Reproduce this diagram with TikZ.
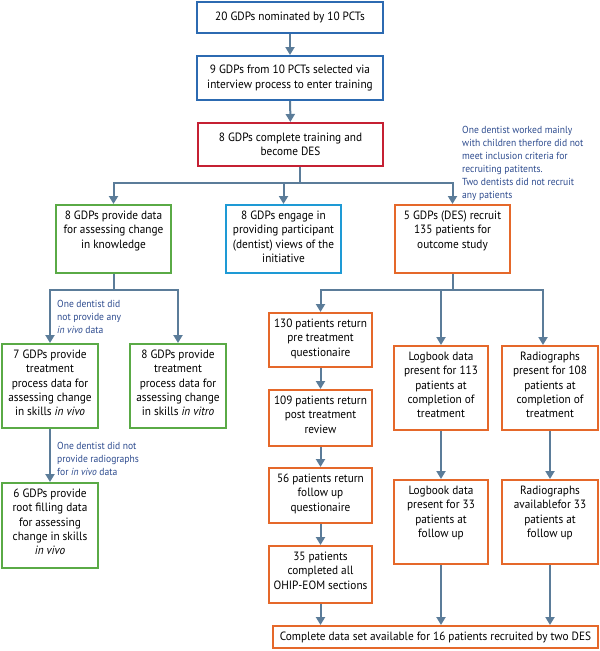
\documentclass[tikz,border=0pt]{standalone}
\usepackage{fontspec}
\setmainfont{PT Sans}[FakeStretch=0.94]
\usetikzlibrary{arrows.meta}
\definecolor{lineclr}{RGB}{91,124,153}
\definecolor{noteclr}{RGB}{45,75,142}
\definecolor{blueclr}{RGB}{44,106,177}
\definecolor{redclr}{RGB}{197,32,51}
\definecolor{greenclr}{RGB}{90,170,70}
\definecolor{cyanclr}{RGB}{30,154,213}
\definecolor{orangeclr}{RGB}{229,104,42}
\begin{document}
\begin{tikzpicture}[x=1pt,y=-1pt,
  boxbase/.style={draw,line width=2pt,inner sep=0pt,font=\fontsize{12}{14.3}\selectfont},
  tbox/.style 2 args={boxbase,
    execute at begin node={\begin{minipage}[c][#2pt][t]{#1pt}\centering\vspace*{6pt}},
    execute at end node={\end{minipage}}},
  cbox/.style 2 args={boxbase,
    execute at begin node={\begin{minipage}[c][#2pt][c]{#1pt}\centering},
    execute at end node={\end{minipage}}},
  note/.style={text=noteclr,font=\fontsize{10.2}{13}\selectfont,align=left,anchor=north west,inner sep=0pt},
  conn/.style={draw=lineclr,line width=2pt},
  arr/.style={conn,-{Triangle[width=9pt,length=8pt]}}]
\useasboundingbox (0,0) rectangle (600,651);

\node[cbox={186}{31},draw=blueclr] (gdp20) at (290,17.5) {20 GDPs nominated by 10 PCTs};
\node[cbox={186}{44},draw=blueclr] (gdp9) at (290,78) {9 GDPs from 10 PCTs selected via\\interview process to enter training};
\node[cbox={185}{43},draw=redclr] (des) at (290.5,144.5) {8 GDPs complete training and\\become DES};

\node[tbox={115}{68},draw=greenclr] (know) at (113.5,239) {8 GDPs provide data\\for assessing change\\in knowledge};
\node[tbox={115}{68},draw=cyanclr] (views) at (283.5,239) {8 GDPs engage in\\providing participant\\(dentist) views of the\\initiative};
\node[tbox={115}{68},draw=orangeclr] (recruit) at (452.5,239) {5 GDPs (DES) recruit\\135 patients for\\outcome study};

\node[tbox={96}{84},draw=greenclr] (vivo) at (50,386) {7 GDPs provide\\treatment\\process data for\\assessing change\\in skills \textit{in vivo}};
\node[tbox={96}{84},draw=greenclr] (vitro) at (178,386) {8 GDPs provide\\treatment\\process data for\\assessing change\\in skills \textit{in vitro}};
\node[tbox={96}{85},draw=greenclr] (root) at (50,525.5) {6 GDPs provide\\root filling data\\for assessing\\change in skills\\\textit{in vivo}};

\node[tbox={103}{54},draw=orangeclr] (pre) at (320.5,340) {130 patients return\\pre treatment\\questionaire};
\node[tbox={103}{56},draw=orangeclr] (post) at (320.5,418) {109 patients return\\post treatment\\review};
\node[tbox={103}{55},draw=orangeclr] (fu) at (320.5,495.5) {56 patients return\\follow up\\questionaire};
\node[tbox={103}{57},draw=orangeclr] (ohip) at (320.5,574.5) {35 patients\\completed all\\OHIP-EOM sections};

\node[tbox={94}{84},draw=orangeclr] (log1) at (441,388) {Logbook data\\present for 113\\patients at\\completion of\\treatment};
\node[tbox={96}{84},draw=orangeclr] (rad1) at (550,388) {Radiographs\\present for 108\\patients at\\completion of\\treatment};
\node[tbox={94}{84},draw=orangeclr] (log2) at (441,522) {Logbook data\\present for 33\\patients at\\follow up};
\node[tbox={96}{84},draw=orangeclr] (rad2) at (550,522) {Radiographs\\availablefor 33\\patients at\\follow up};

\node[cbox={325}{22},draw=orangeclr] (all) at (435.5,637) {Complete data set available for 16 patients recruited by two DES};

\node[note] (noterec) at (462,126) {One dentist worked mainly\\with children therfore did not\\meet inclusion criteria for\\recruiting patitents.\\Two dentists did not recruit\\any patients};
\node[note] (notevivo) at (57,300) {One dentist did\\not provide any\\\textit{in vivo} data};
\node[note] (noterad) at (57,442) {One dentist did not\\provide radiographs\\for \textit{in vivo} data};

\coordinate (splitA) at (300,183);
\coordinate (splitB) at (113.5,290);
\coordinate (splitC) at (452.5,290);

\draw[arr] (gdp20) -- (gdp9);
\draw[arr] (gdp9) -- (des);
\draw[conn] (des.south -| splitA) -- (splitA);
\draw[arr] (splitA) -| (know);
\draw[arr] (splitA) -| (views);
\draw[arr] (splitA) -| (recruit);
\draw[conn] (know) -- (splitB);
\draw[arr] (splitB) -| (vivo);
\draw[arr] (splitB) -| (vitro);
\draw[arr] (vivo) -- (root);
\draw[conn] (recruit) -- (splitC);
\draw[arr] (splitC) -| (pre);
\draw[arr] (splitC) -| (log1);
\draw[arr] (splitC) -| ([xshift=-7pt]rad1.north);
\draw[arr] (pre) -- (post);
\draw[arr] (post) -- (fu);
\draw[arr] (fu) -- (ohip);
\draw[arr] (log1) -- (log2);
\draw[arr] (rad1) -- (rad2);
\draw[arr] (ohip) -- (ohip |- all.north);
\draw[arr] (log2) -- (log2 |- all.north);
\draw[arr] (rad2) -- (rad2 |- all.north);
\end{tikzpicture}
\end{document}
